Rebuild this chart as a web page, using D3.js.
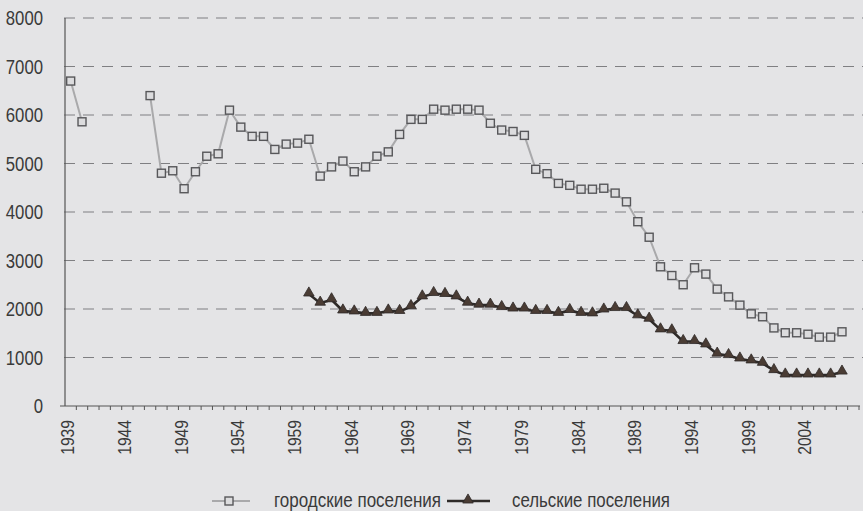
<!DOCTYPE html>
<html>
<head>
<meta charset="utf-8">
<script src="https://cdn.jsdelivr.net/npm/d3@7"></script>
<style>
  html, body { margin: 0; padding: 0; background: #e4e4e6; }
  svg { display: block; }
  text { font-family: "Liberation Sans", Arial, sans-serif; fill: #3a3a3a; }
</style>
</head>
<body>
<div id="chart"></div>
<script>
// categories: one per year, 1939..2008 (2008 has no values)
var firstYear = 1939, lastYear = 2008;
var years = d3.range(firstYear, lastYear + 1);
var yTicks = [0, 1000, 2000, 3000, 4000, 5000, 6000, 7000, 8000];
var xLabelYears = [1939, 1944, 1949, 1954, 1959, 1964, 1969, 1974, 1979, 1984, 1989, 1994, 1999, 2004];

// городские поселения, from 1939 (null = no data)
var urban = [6700, 5860, null, null, null, null, null,
  6400, 4800, 4850, 4480, 4830, 5150, 5200, 6100, 5750, 5560, 5560, 5290, 5400, 5420,
  5500, 4740, 4930, 5050, 4830, 4930, 5150, 5240, 5600, 5910,
  5910, 6120, 6100, 6120, 6120, 6100, 5830, 5690, 5660, 5580,
  4880, 4790, 4590, 4550, 4470, 4470, 4490, 4390, 4210, 3800,
  3480, 2870, 2690, 2500, 2850, 2720, 2410, 2250, 2080, 1900,
  1840, 1610, 1510, 1510, 1480, 1420, 1420, 1530];

// сельские поселения, from 1960
var ruralFrom = 1960;
var rural = [2310, 2120, 2190, 1960, 1940, 1910, 1910, 1960, 1950, 2050,
  2250, 2320, 2300, 2250, 2120, 2080, 2080, 2030, 2000, 2000,
  1950, 1950, 1910, 1970, 1910, 1900, 1980, 2010, 2010, 1860,
  1790, 1570, 1550, 1330, 1330, 1260, 1070, 1040, 970, 930,
  880, 730, 640, 640, 640, 640, 640, 700];

var legendNames = ["городские поселения", "сельские поселения"];

var width = 863, height = 511;
var margin = { top: 18, left: 65, right: 4, bottom: 105 };

var svg = d3.select("#chart").append("svg")
  .attr("width", width)
  .attr("height", height);

var x = d3.scaleBand()
  .domain(years)
  .range([margin.left, 859]);

var y = d3.scaleLinear()
  .domain([0, 8000])
  .range([height - margin.bottom, margin.top]);

function cx(yr) { return x(yr) + x.bandwidth() / 2; }

// the print uses a narrow face; squeeze the regular one to that width
function narrow(sel, perChar) {
  sel.attr("textLength", function(d) { return String(d).length * perChar; })
    .attr("lengthAdjust", "spacingAndGlyphs");
}

// dashed grid + y tick labels
svg.append("g").selectAll("line")
  .data(yTicks.filter(function(d) { return d > 0; }))
  .enter().append("line")
  .attr("x1", margin.left - 5)
  .attr("x2", width)
  .attr("y1", function(d) { return y(d); })
  .attr("y2", function(d) { return y(d); })
  .attr("stroke", "#7f7f82")
  .attr("stroke-width", 1)
  .attr("stroke-dasharray", "11,8")
  .attr("stroke-dashoffset", -4);

svg.append("g").selectAll("text")
  .data(yTicks)
  .enter().append("text")
  .attr("x", 43)
  .attr("y", function(d) { return y(d); })
  .attr("dy", "0.36em")
  .attr("text-anchor", "end")
  .style("font-size", "20px")
  .text(function(d) { return d; })
  .call(narrow, 9.3);

// axes lines
svg.append("line")
  .attr("x1", margin.left).attr("x2", margin.left)
  .attr("y1", y(8000)).attr("y2", y(0))
  .attr("stroke", "#555").attr("stroke-width", 1.2);

svg.append("line")
  .attr("x1", margin.left - 5).attr("x2", 860)
  .attr("y1", y(0)).attr("y2", y(0))
  .attr("stroke", "#555").attr("stroke-width", 1.2);

// x minor ticks at category edges
svg.append("g").selectAll("line")
  .data(years)
  .enter().append("line")
  .attr("x1", function(d) { return x(d) + x.bandwidth(); })
  .attr("x2", function(d) { return x(d) + x.bandwidth(); })
  .attr("y1", y(0))
  .attr("y2", y(0) + 4)
  .attr("stroke", "#555");

svg.append("g").selectAll("text")
  .data(xLabelYears)
  .enter().append("text")
  .attr("transform", function(d) {
    return "translate(" + (cx(d) - 3) + "," + (y(0) + 14) + ") rotate(-90)";
  })
  .attr("dy", "0.36em")
  .attr("text-anchor", "end")
  .style("font-size", "18px")
  .text(function(d) { return d; })
  .call(narrow, 8.7);

// series data
var urbanData = urban.map(function(v, i) { return { year: firstYear + i, value: v }; });
var ruralData = rural.map(function(v, i) { return { year: ruralFrom + i, value: v }; });

var line = d3.line()
  .defined(function(d) { return d.value !== null; })
  .x(function(d) { return cx(d.year); })
  .y(function(d) { return y(d.value); });

svg.append("path")
  .datum(urbanData)
  .attr("d", line)
  .attr("fill", "none")
  .attr("stroke", "#a9a9ab")
  .attr("stroke-width", 2);

svg.append("path")
  .datum(ruralData)
  .attr("d", line)
  .attr("fill", "none")
  .attr("stroke", "#2e2a28")
  .attr("stroke-width", 2.6);

var sq = 8;
svg.append("g").selectAll("rect")
  .data(urbanData.filter(function(d) { return d.value !== null; }))
  .enter().append("rect")
  .attr("x", function(d) { return cx(d.year) - sq / 2; })
  .attr("y", function(d) { return y(d.value) - sq / 2; })
  .attr("width", sq)
  .attr("height", sq)
  .attr("fill", "#dcdcde")
  .attr("stroke", "#57575a")
  .attr("stroke-width", 1.4);

var tri = d3.symbol().type(d3.symbolTriangle).size(48);
svg.append("g").selectAll("path")
  .data(ruralData)
  .enter().append("path")
  .attr("d", tri)
  .attr("transform", function(d) { return "translate(" + cx(d.year) + "," + (y(d.value) - 1) + ")"; })
  .attr("fill", "#4a3c34")
  .attr("stroke", "#2e2a28")
  .attr("stroke-width", 0.8);

// legend
var ly = 501;
var lg = svg.append("g");
lg.append("line").attr("x1", 212).attr("x2", 250).attr("y1", ly).attr("y2", ly)
  .attr("stroke", "#a9a9ab").attr("stroke-width", 2);
lg.append("rect").attr("x", 229 - sq / 2).attr("y", ly - sq / 2).attr("width", sq).attr("height", sq)
  .attr("fill", "#dcdcde").attr("stroke", "#57575a").attr("stroke-width", 1.4);
lg.append("text").attr("x", 274).attr("y", ly).attr("dy", "0.3em")
  .style("font-size", "20px")
  .attr("textLength", 167).attr("lengthAdjust", "spacingAndGlyphs")
  .text(legendNames[0]);

lg.append("line").attr("x1", 447).attr("x2", 490).attr("y1", ly).attr("y2", ly)
  .attr("stroke", "#2e2a28").attr("stroke-width", 2.6);
lg.append("path").attr("d", tri).attr("transform", "translate(468," + (ly - 1) + ")")
  .attr("fill", "#4a3c34").attr("stroke", "#2e2a28").attr("stroke-width", 0.8);
lg.append("text").attr("x", 512).attr("y", ly).attr("dy", "0.3em")
  .style("font-size", "20px")
  .attr("textLength", 158).attr("lengthAdjust", "spacingAndGlyphs")
  .text(legendNames[1]);
</script>
</body>
</html>
